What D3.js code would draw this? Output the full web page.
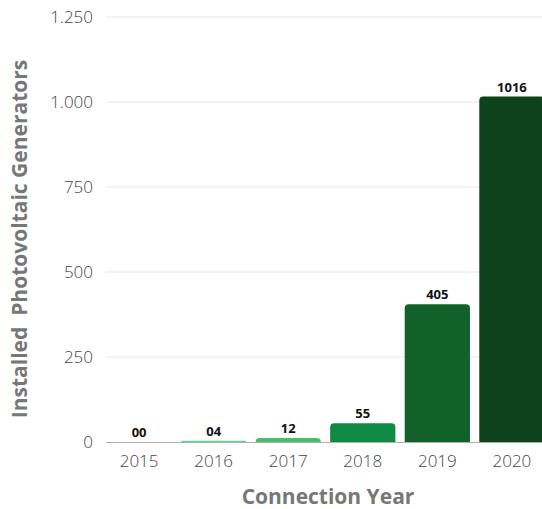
<!DOCTYPE html>
<html>
<head>
<meta charset="utf-8">
<script src="https://cdn.jsdelivr.net/npm/d3@7"></script>
<style>
  html, body { margin: 0; padding: 0; background: #fff; overflow: hidden; }
  svg { display: block; font-family: "Open Sans", sans-serif; }
</style>
</head>
<body>
<svg id="chart" width="542" height="509"></svg>
<script>
// Installed photovoltaic generators per connection year
const years = ["2015", "2016", "2017", "2018", "2019", "2020"];
const generators = [0, 4, 12, 55, 405, 1016];
const valueLabels = ["00", "04", "12", "55", "405", "1016"];
const barColors = ["#5fd68a", "#5fd68a", "#4cbb6e", "#0f8a44", "#12612a", "#0e421c"];
const yTicks = [0, 250, 500, 750, 1000, 1250];

const svg = d3.select("#chart");
const plotTop = 17, plotBottom = 442, plotLeft = 106, plotRight = 542;

const x = d3.scaleBand().domain(years).range([102, 549]).paddingInner(0.125).paddingOuter(0.06);
const y = d3.scaleLinear().domain([0, 1250]).range([plotBottom, plotTop]);

const fmt = d3.formatLocale({ decimal: ",", thousands: ".", grouping: [3], currency: ["", ""] }).format(",d");

// grid lines
svg.append("g").selectAll("line").data(yTicks.filter(d => d > 0)).join("line")
  .attr("x1", plotLeft).attr("x2", plotRight)
  .attr("y1", d => y(d)).attr("y2", d => y(d))
  .attr("stroke", "#e6e6e6").attr("stroke-width", 1);

// y axis labels
const yAxis = svg.append("g").attr("transform", `translate(${plotLeft},0)`)
  .call(d3.axisLeft(y).tickValues(yTicks).tickFormat(fmt).tickSize(0).tickPadding(13));
yAxis.select(".domain").remove();
yAxis.selectAll("text").attr("fill", "#444").attr("font-size", 17)
  .attr("font-weight", 300).attr("font-family", "'Open Sans', sans-serif");

// bars with rounded tops
function barPath(d, i) {
  const x0 = x(years[i]), w = x.bandwidth();
  const y0 = y(d), h = plotBottom - y0;
  const r = Math.min(4, h, w / 2);
  return `M${x0},${plotBottom} V${y0 + r} Q${x0},${y0} ${x0 + r},${y0} H${x0 + w - r} Q${x0 + w},${y0} ${x0 + w},${y0 + r} V${plotBottom} Z`;
}
svg.append("g").selectAll("path").data(generators).join("path")
  .attr("d", (d, i) => barPath(d, i))
  .attr("fill", (d, i) => barColors[i]);

// baseline
svg.append("line").attr("x1", plotLeft).attr("x2", plotRight)
  .attr("y1", plotBottom + 0.5).attr("y2", plotBottom + 0.5)
  .attr("stroke", "#b0b0b0").attr("stroke-width", 1);

// value labels
svg.append("g").selectAll("text").data(generators).join("text")
  .attr("x", (d, i) => x(years[i]) + x.bandwidth() / 2)
  .attr("y", d => y(d) - 5)
  .attr("text-anchor", "middle")
  .attr("font-size", 13).attr("font-weight", "bold").attr("fill", "#111")
  .text((d, i) => valueLabels[i]);

// x axis labels
const xAxis = svg.append("g").attr("transform", `translate(0,${plotBottom})`)
  .call(d3.axisBottom(x).tickSize(0).tickPadding(13));
xAxis.select(".domain").remove();
xAxis.selectAll("text").attr("fill", "#444").attr("font-size", 17)
  .attr("font-weight", 300).attr("font-family", "'Open Sans', sans-serif");

// axis titles
svg.append("text")
  .attr("x", 328).attr("y", 504)
  .attr("text-anchor", "middle")
  .attr("font-size", 21).attr("font-weight", "bold").attr("fill", "#777")
  .text("Connection Year");

svg.append("text")
  .attr("transform", "translate(27,239) rotate(-90)")
  .attr("text-anchor", "middle")
  .attr("font-size", 21).attr("font-weight", "bold").attr("fill", "#777")
  .style("white-space", "pre")
  .text("Installed  Photovoltaic Generators");
</script>
</body>
</html>
